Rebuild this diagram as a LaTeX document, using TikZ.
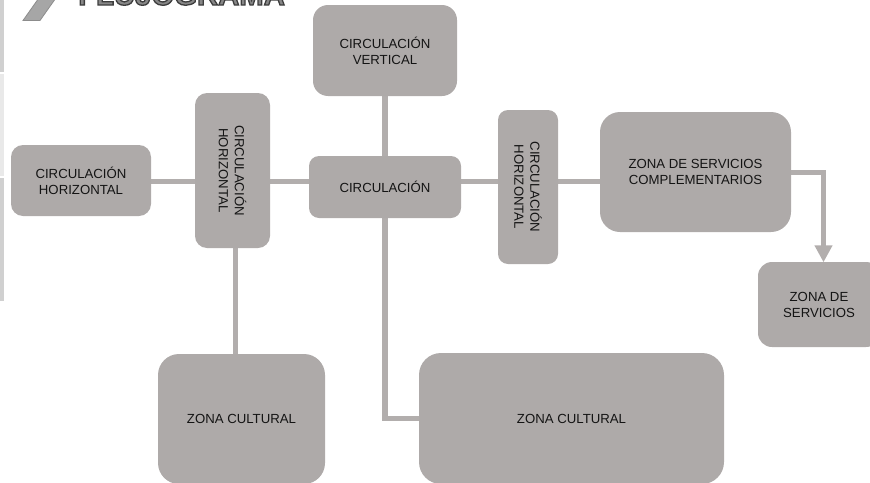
\documentclass[tikz,border=0pt]{standalone}
\usepackage{fontspec}
\setmainfont{Liberation Sans}
\usetikzlibrary{arrows.meta,backgrounds}
\definecolor{boxgray}{RGB}{174,170,169}
\definecolor{linegray}{RGB}{178,174,173}
\definecolor{txt}{RGB}{20,20,20}
\definecolor{stripA}{RGB}{208,208,208}
\definecolor{stripB}{RGB}{233,233,233}
\definecolor{titlefill}{RGB}{135,135,135}
\newcommand{\outlinedtitle}[1]{\special{pdf:literal direct q 2 Tr 1.3 w 0.24 G}#1\special{pdf:literal direct 0 Tr Q}}
\tikzset{
  zone/.style={fill=boxgray, draw=none, text=txt, align=center, inner sep=0pt,
    font=\fontsize{13.2}{16}\selectfont},
  vlabel/.style={text=txt, align=center, inner sep=0pt, rotate=-90,
    font=\fontsize{13.2}{16}\selectfont},
  link/.style={draw=linegray, line width=5.5pt},
  titletext/.style={anchor=base west, inner sep=0pt, text=titlefill,
    font=\fontsize{29.3}{30}\selectfont\bfseries},
}
\begin{document}
\begin{tikzpicture}[x=1pt,y=-1pt]
\clip (0,0) rectangle (870,482);
% left strip
\fill[stripA] (0,0) rectangle (4,72);
\fill[stripB] (0,74) rectangle (4,176);
\fill[stripA] (0,178) rectangle (4,301);
% title chevron and text
\filldraw[fill=gray!70, draw=gray!110!black, line width=0.8pt]
  (23,20.5) -- (40,20.5) -- (58,-5) -- (41,-5) -- cycle;
\node[titletext] (title) at (78,5) {\outlinedtitle{FLUJOGRAMA}};
% boxes
\node[zone, minimum width=140pt, minimum height=71pt, rounded corners=12pt] (chl) at (81,180.5) {CIRCULACIÓN\\HORIZONTAL};
\node[zone, minimum width=75pt, minimum height=155pt, rounded corners=12pt] (chv1) at (232.5,170.5) {};
\node[vlabel] (chv1t) at (chv1.center) {CIRCULACIÓN\\HORIZONTAL};
\node[zone, minimum width=144pt, minimum height=91pt, rounded corners=15pt] (cv) at (385,50.5) {CIRCULACIÓN\\VERTICAL};
\node[zone, minimum width=152pt, minimum height=62pt, rounded corners=10pt] (circ) at (385,187) {CIRCULACIÓN};
\node[zone, minimum width=60pt, minimum height=154pt, rounded corners=10pt] (chv2) at (528,187) {};
\node[vlabel] (chv2t) at (chv2.center) {CIRCULACIÓN\\HORIZONTAL};
\node[zone, minimum width=191pt, minimum height=120pt, rounded corners=20pt] (zsc) at (695.5,172) {ZONA DE SERVICIOS\\COMPLEMENTARIOS};
\node[zone, minimum width=122pt, minimum height=85pt, rounded corners=14pt] (zs) at (819,304.5) {ZONA DE\\SERVICIOS};
\node[zone, minimum width=167pt, minimum height=130pt, rounded corners=21pt] (zc1) at (241.5,419) {ZONA CULTURAL};
\node[zone, minimum width=305pt, minimum height=131pt, rounded corners=22pt] (zc2) at (571.5,418.5) {ZONA CULTURAL};
\coordinate (hy) at (0,181.5);
% connectors
\begin{pgfonlayer}{background}
\draw[link] (chl.east |- hy) -- (chv1.west |- hy);
\draw[link] (chv1.east |- hy) -- (circ.west |- hy);
\draw[link] (circ.east |- hy) -- (chv2.west |- hy);
\draw[link] (chv2.east |- hy) -- (zsc.west |- hy);
\draw[link] (cv.south) -- (circ.north);
\draw[link] ([xshift=3pt]chv1.south) -- ([xshift=3pt]chv1.south |- zc1.north);
\draw[link] (circ.south) -- (circ.south |- zc2.west) -- (zc2.west);
\end{pgfonlayer}
\draw[link, -{Triangle[width=17pt,length=17pt]}, shorten >=-0.5pt]
  ([yshift=-0.5pt]zsc.east) -| ([xshift=4.5pt]zs.north);
\end{tikzpicture}
\end{document}
